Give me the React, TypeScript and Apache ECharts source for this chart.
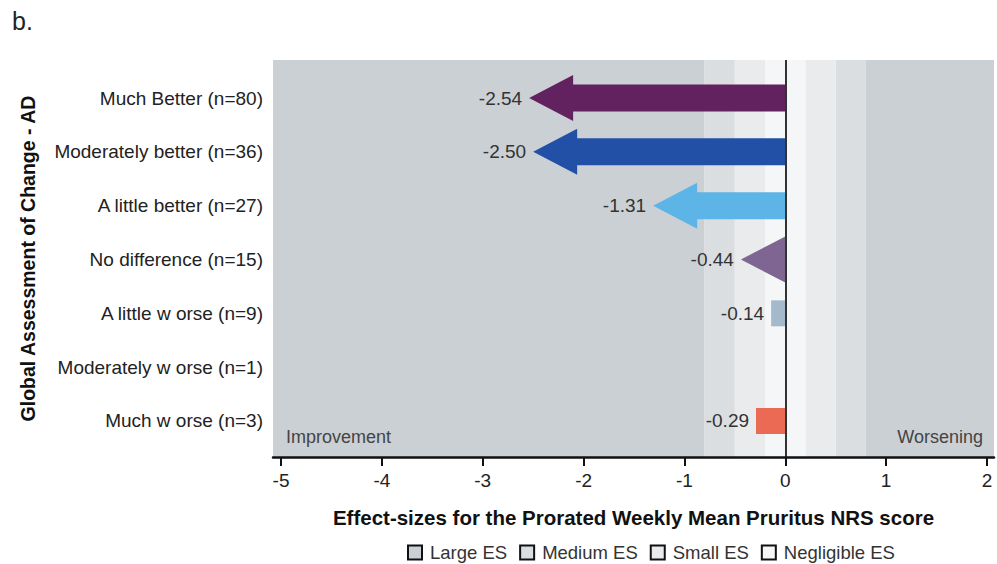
import React, { useEffect, useRef } from "react";
import * as echarts from "echarts";

const categories = [
  "Much Better (n=80)",
  "Moderately better (n=36)",
  "A little better (n=27)",
  "No difference (n=15)",
  "A little w orse (n=9)",
  "Moderately w orse (n=1)",
  "Much w orse (n=3)",
];
const values: (number | null)[] = [-2.54, -2.5, -1.31, -0.44, -0.14, null, -0.29];
const colors = ["#62215f", "#2250a6", "#5db4e6", "#7e6592", "#a4b9cb", "#999999", "#ea6a53"];
const xTicks = [-5, -4, -3, -2, -1, 0, 1, 2];
const X_MIN = -5.08;
const X_MAX = 2.07;
const esNames = ["Large ES", "Medium ES", "Small ES", "Negligible ES"];
const esColors = ["#cbd0d5", "#dadee1", "#e9ebed", "#f5f6f7"];
// band intervals for each effect-size class
const esBands: [number, number][][] = [
  [[X_MIN, -0.8], [0.8, X_MAX]],
  [[-0.8, -0.5], [0.5, 0.8]],
  [[-0.5, -0.2], [0.2, 0.5]],
  [[-0.2, 0.2]],
];

const FONT = "'Liberation Sans', Arial, sans-serif";

export default function App() {
  const ref = useRef<HTMLDivElement>(null);
  useEffect(() => {
    const chart = echarts.init(ref.current!, null, { renderer: "svg" });

    const bandSeries = esNames.map((name, i) => ({
      name,
      type: "custom",
      z: 1,
      itemStyle: { color: esColors[i] },
      data: esBands[i].map((b) => [b[0], b[1]]),
      renderItem: (params: any, api: any) => {
        const cs = params.coordSys;
        const x0 = api.coord([api.value(0), 0])[0];
        const x1 = api.coord([api.value(1), 0])[0];
        return {
          type: "rect",
          shape: { x: x0, y: cs.y, width: x1 - x0, height: cs.height },
          style: { fill: esColors[i] },
          silent: true,
        };
      },
    }));

    const arrowData = values
      .map((v, i) => (v === null ? null : { value: [v, i], itemStyle: { color: colors[i] } }))
      .filter((d) => d !== null);

    const arrowSeries = {
      name: "ES",
      type: "custom",
      z: 5,
      data: arrowData,
      renderItem: (params: any, api: any) => {
        const v = api.value(0);
        const idx = api.value(1);
        const color = colors[idx];
        const [xt, yc] = api.coord([v, idx]);
        const [x0] = api.coord([0, idx]);
        const len = x0 - xt;
        const headLen = 44;
        const shaftH = 27;
        const headH = 46;
        let shape: any;
        if (len >= 40) {
          const hl = Math.min(headLen, len);
          const xb = xt + hl;
          const pts =
            hl >= len - 1
              ? [
                  [xt, yc],
                  [x0, yc - headH / 2],
                  [x0, yc + headH / 2],
                ]
              : [
                  [xt, yc],
                  [xb, yc - headH / 2],
                  [xb, yc - shaftH / 2],
                  [x0, yc - shaftH / 2],
                  [x0, yc + shaftH / 2],
                  [xb, yc + shaftH / 2],
                  [xb, yc + headH / 2],
                ];
          shape = { type: "polygon", shape: { points: pts }, style: { fill: color } };
        } else {
          shape = {
            type: "rect",
            shape: { x: xt, y: yc - 13, width: len, height: 26 },
            style: { fill: color },
          };
        }
        return {
          type: "group",
          children: [
            shape,
            {
              type: "text",
              x: xt - 7,
              y: yc,
              style: {
                text: v.toFixed(2),
                align: "right",
                verticalAlign: "middle",
                fontSize: 19,
                fontFamily: FONT,
                fill: "#333",
              },
            },
          ],
        };
      },
      markLine: {
        silent: true,
        symbol: "none",
        label: { show: false },
        lineStyle: { color: "#333", width: 2, type: "solid" },
        data: [{ xAxis: 0 }],
        z: 6,
      },
    };

    chart.setOption({
      animation: false,
      backgroundColor: "#ffffff",
      grid: { left: 273, right: 3, top: 60, bottom: 107 },
      xAxis: {
        type: "value",
        min: X_MIN,
        max: X_MAX,
        name: "Effect-sizes for the Prorated Weekly Mean Pruritus NRS score",
        nameLocation: "middle",
        nameGap: 50,
        nameTextStyle: { fontSize: 20.5, fontWeight: "bold", color: "#111", fontFamily: FONT },
        axisLine: { show: true, onZero: false, lineStyle: { color: "#111", width: 2.5 } },
        axisTick: { show: true, customValues: xTicks, length: 9, lineStyle: { color: "#111", width: 2 } },
        axisLabel: { customValues: xTicks, fontSize: 19, color: "#222", margin: 14, fontFamily: FONT },
        splitLine: { show: false },
        z: 10,
      },
      yAxis: {
        type: "value",
        inverse: true,
        min: -0.706,
        max: 6.669,
        name: "Global Assessment of Change - AD",
        nameLocation: "middle",
        nameGap: 235,
        nameRotate: 90,
        nameTextStyle: { fontSize: 19.5, fontWeight: "bold", color: "#111", fontFamily: FONT },
        axisLine: { show: false },
        axisTick: { show: false },
        splitLine: { show: false },
        axisLabel: {
          customValues: [0, 1, 2, 3, 4, 5, 6],
          formatter: (v: number) => categories[Math.round(v)] ?? "",
          fontSize: 19,
          color: "#222",
          margin: 10,
          fontFamily: FONT,
        },
      },
      legend: {
        left: 407,
        top: 543,
        padding: 0,
        itemWidth: 14,
        itemHeight: 14,
        itemGap: 12,
        icon: "rect",
        selectedMode: false,
        textStyle: { fontSize: 18.5, color: "#333", fontFamily: FONT, padding: [0, 0, 0, 3] },
        data: esNames.map((n, i) => ({
          name: n,
          itemStyle: { color: esColors[i], borderColor: "#111", borderWidth: 2 },
        })),
      },
      graphic: [
        {
          type: "text",
          left: 12,
          top: 8,
          style: { text: "b.", fontSize: 25, fontFamily: FONT, fill: "#222" },
        },
        {
          type: "text",
          x: 286,
          y: 437,
          style: { text: "Improvement", fontSize: 18, fontFamily: FONT, fill: "#444", verticalAlign: "middle" },
          z: 20,
        },
        {
          type: "text",
          x: 983,
          y: 437,
          style: { text: "Worsening", fontSize: 18, fontFamily: FONT, fill: "#444", align: "right", verticalAlign: "middle" },
          z: 20,
        },
      ],
      series: [...bandSeries, arrowSeries],
    });
    return () => chart.dispose();
  }, []);
  return <div ref={ref} style={{ width: 997, height: 564, position: "absolute", left: 0, top: 0 }} />;
}
